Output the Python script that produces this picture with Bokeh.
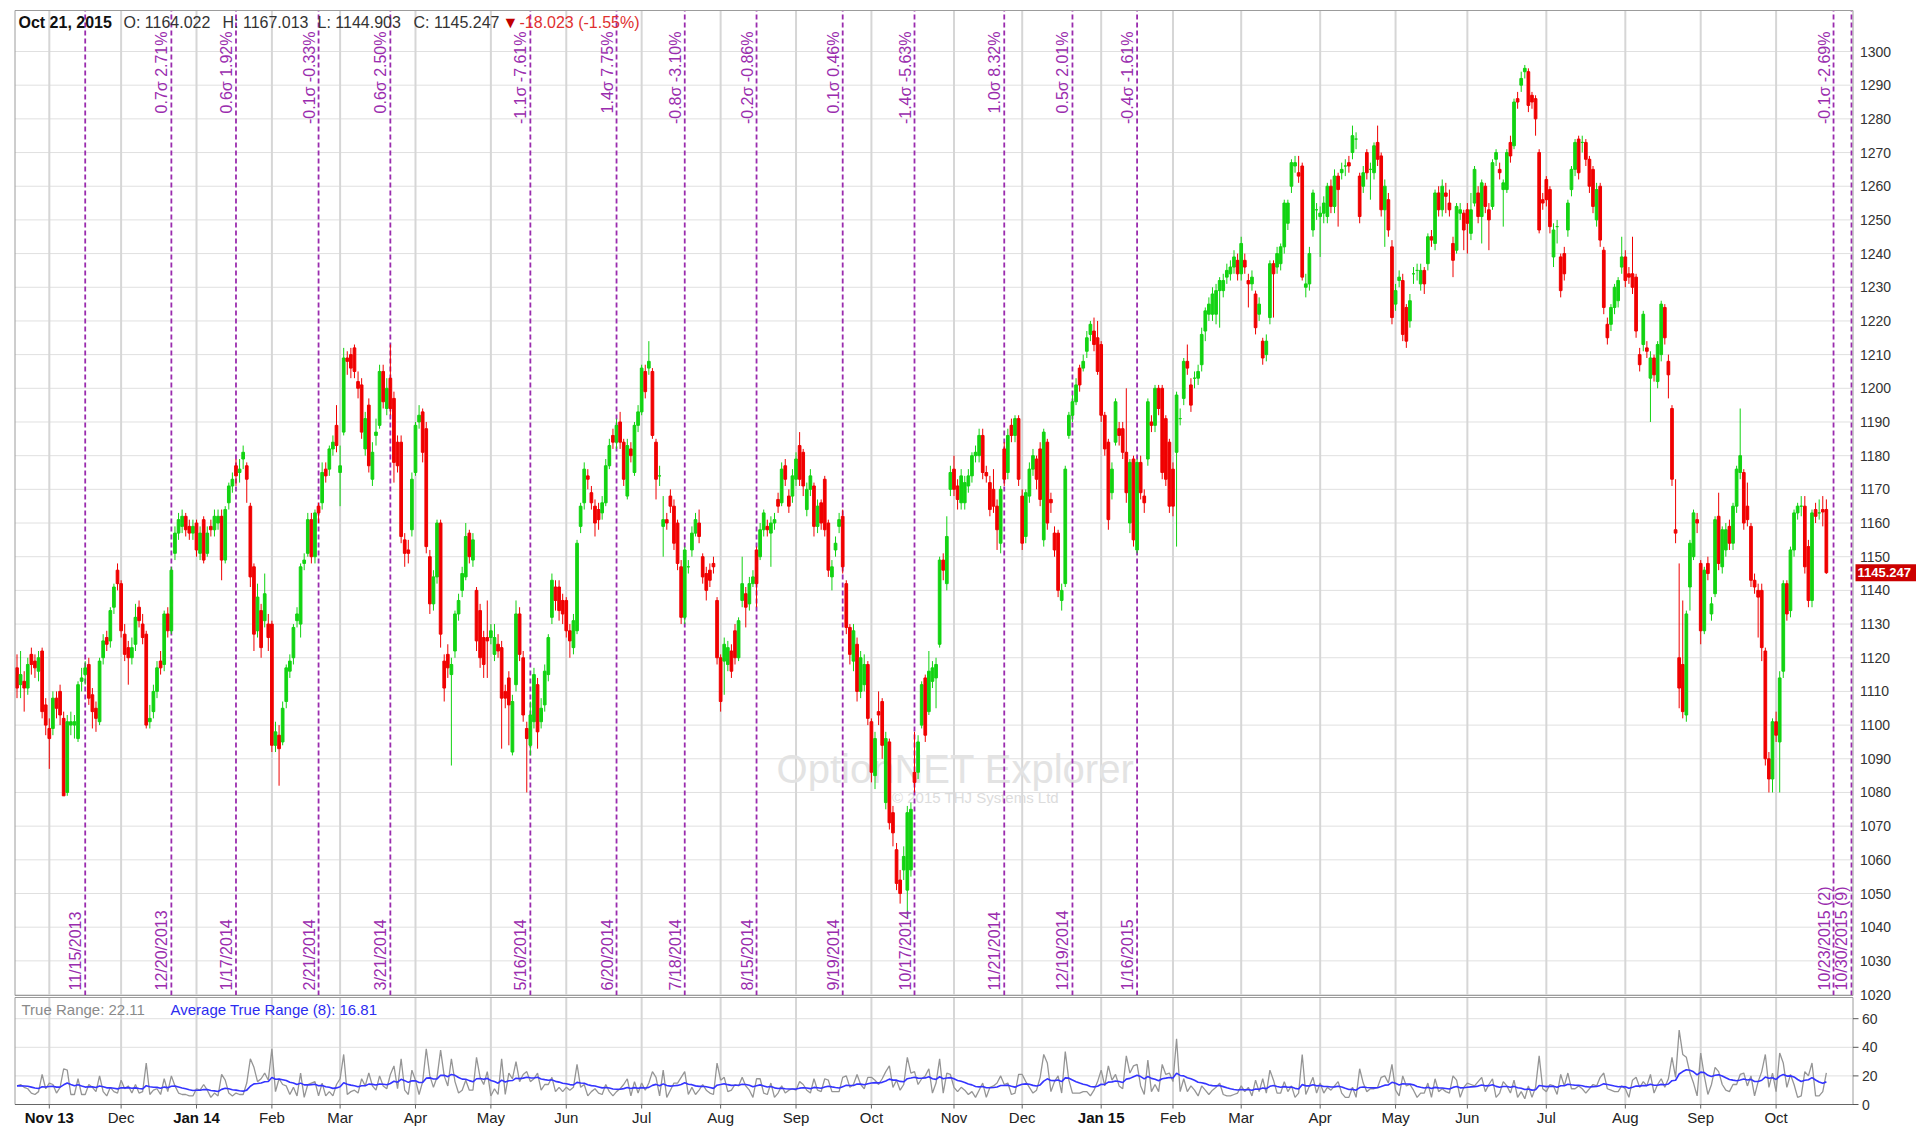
import numpy as np
import pandas as pd
from bokeh.plotting import figure
from bokeh.models import ColumnDataSource, Range1d
from bokeh.core.properties import value
from bokeh.embed import file_html
from bokeh.resources import INLINE

# ---------------- data (daily candles, Oct 21 2013 .. Oct 21 2015) ----------------
opens = [
    1117,1112,1113,1111,1121,1119,1116,1122,1106,1099,
    1099,1108,1110,1102,1080,1100,1100,1096,1113,1115,
    1118,1109,1105,1101,1120,1126,1125,1135,1146,1142,
    1127,1123,1120,1124,1135,1130,1127,1101,1104,1110,
    1119,1118,1133,1128,1151,1157,1159,1162,1159,1157,
    1160,1151,1161,1151,1159,1158,1160,1162,1149,1166,
    1171,1177,1175,1179,1177,1165,1147,1128,1134,1131,
    1130,1130,1094,1097,1095,1107,1116,1120,1131,1130,
    1148,1151,1161,1150,1165,1166,1176,1176,1182,1189,
    1175,1187,1209,1210,1212,1202,1201,1182,1195,1173,
    1186,1189,1205,1194,1203,1197,1184,1184,1155,1152,
    1158,1175,1190,1193,1188,1150,1136,1144,1160,1119,
    1121,1115,1122,1133,1140,1144,1157,1149,1140,1134,
    1126,1126,1126,1121,1124,1123,1110,1114,1092,1112,
    1133,1120,1099,1094,1101,1112,1101,1106,1115,1132,
    1141,1141,1137,1137,1128,1123,1128,1159,1166,1174,
    1169,1165,1164,1163,1166,1177,1186,1184,1190,1184,
    1168,1182,1175,1189,1193,1205,1206,1205,1184,1174,
    1159,1161,1168,1165,1160,1147,1132,1147,1152,1157,
    1160,1150,1145,1146,1148,1137,1120,1119,1118,1122,
    1128,1120,1137,1139,1136,1142,1152,1150,1158,1159,
    1157,1160,1167,1166,1177,1168,1168,1173,1183,1181,
    1164,1170,1171,1159,1166,1173,1160,1144,1152,1159,
    1162,1142,1129,1119,1124,1110,1112,1118,1101,1085,
    1104,1107,1077,1095,1074,1063,1054,1057,1051,1057,
    1086,1086,1100,1114,1104,1113,1114,1124,1149,1142,
    1170,1176,1171,1166,1166,1171,1174,1180,1180,1186,
    1175,1172,1170,1165,1154,1182,1175,1189,1186,1191,
    1168,1156,1168,1176,1179,1182,1155,1184,1167,1157,
    1157,1137,1142,1186,1192,1196,1206,1206,1211,1216,
    1217,1215,1213,1192,1184,1169,1184,1188,1188,1181,
    1160,1179,1152,1178,1168,1179,1190,1189,1200,1200,
    1191,1184,1176,1181,1191,1197,1208,1201,1203,1203,
    1207,1217,1222,1222,1222,1229,1229,1233,1234,1236,
    1238,1234,1238,1232,1231,1228,1222,1214,1210,1221,
    1237,1236,1237,1242,1249,1260,1266,1264,1266,1230,
    1231,1247,1253,1251,1252,1251,1260,1254,1263,1264,
    1266,1267,1270,1274,1263,1260,1270,1265,1264,1273,
    1269,1253,1256,1242,1225,1232,1232,1224,1220,1234,
    1235,1231,1235,1237,1245,1243,1258,1253,1258,1255,
    1243,1241,1252,1252,1253,1246,1255,1258,1251,1260,
    1253,1254,1268,1265,1259,1259,1273,1272,1286,1290,
    1294,1294,1287,1286,1270,1256,1262,1259,1239,1248,
    1239,1240,1247,1259,1265,1274,1273,1273,1268,1265,
    1250,1260,1241,1219,1219,1224,1226,1236,1239,1234,
    1234,1233,1210,1213,1212,1203,1209,1202,1210,1224,
    1208,1194,1158,1120,1118,1103,1141,1150,1161,1148,
    1128,1148,1133,1139,1162,1147,1152,1159,1154,1165,
    1175,1175,1165,1159,1143,1140,1140,1122,1090,1084,
    1101,1095,1116,1142,1134,1152,1163,1165,1165,1153,
    1137,1164,1163,1164,1164.022,
]
highs = [
    1121,1122,1116,1120,1123,1121,1122,1123,1108,1102,
    1110,1110,1112,1104,1103,1104,1103,1113,1117,1119,
    1120,1111,1107,1120,1127,1128,1135,1142,1148,1143,
    1130,1125,1126,1136,1137,1133,1128,1106,1112,1119,
    1122,1134,1135,1147,1159,1163,1164,1163,1161,1161,
    1161,1159,1162,1159,1161,1164,1164,1164,1165,1172,
    1175,1179,1179,1183,1178,1166,1148,1142,1136,1145,
    1133,1131,1101,1100,1107,1118,1121,1130,1135,1148,
    1151,1163,1163,1164,1166,1178,1178,1183,1186,1195,
    1183,1212,1211,1212,1213,1205,1203,1193,1197,1184,
    1191,1207,1207,1203,1213,1199,1186,1186,1157,1155,
    1175,1190,1195,1194,1190,1152,1146,1161,1161,1121,
    1124,1120,1134,1139,1147,1160,1158,1157,1141,1136,
    1128,1137,1130,1130,1127,1125,1112,1116,1109,1137,
    1135,1122,1101,1107,1117,1114,1108,1118,1127,1145,
    1143,1143,1139,1138,1130,1133,1155,1166,1178,1176,
    1171,1167,1166,1168,1179,1185,1188,1191,1193,1185,
    1185,1184,1190,1195,1207,1207,1214,1206,1185,1177,
    1168,1163,1170,1167,1161,1149,1153,1149,1159,1163,
    1164,1151,1147,1148,1150,1138,1121,1126,1125,1124,
    1130,1132,1150,1141,1144,1146,1153,1160,1164,1161,
    1162,1163,1169,1178,1179,1170,1176,1181,1187,1182,
    1172,1176,1172,1167,1167,1174,1161,1149,1156,1163,
    1164,1143,1130,1130,1126,1122,1121,1119,1102,1098,
    1110,1108,1098,1096,1076,1065,1057,1064,1076,1077,
    1098,1097,1113,1115,1122,1119,1120,1150,1151,1162,
    1177,1180,1173,1176,1174,1176,1181,1183,1188,1188,
    1177,1174,1176,1167,1171,1184,1188,1191,1192,1192,
    1170,1170,1178,1182,1180,1184,1188,1185,1169,1159,
    1158,1142,1177,1193,1198,1203,1207,1210,1217,1220,
    1221,1220,1214,1193,1185,1178,1197,1190,1190,1200,
    1179,1180,1179,1180,1170,1197,1192,1201,1201,1201,
    1192,1185,1178,1199,1194,1209,1213,1203,1205,1207,
    1218,1224,1227,1230,1231,1233,1234,1237,1238,1241,
    1240,1245,1240,1234,1235,1229,1227,1215,1216,1238,
    1238,1242,1243,1256,1256,1268,1269,1269,1267,1234,
    1242,1259,1255,1254,1257,1261,1262,1265,1264,1267,
    1268,1269,1278,1276,1264,1266,1271,1267,1273,1278,
    1270,1262,1258,1244,1231,1235,1234,1225,1228,1236,
    1237,1237,1236,1246,1247,1259,1260,1262,1261,1259,
    1245,1255,1255,1253,1255,1258,1266,1260,1262,1261,
    1255,1268,1271,1267,1262,1271,1275,1286,1288,1294,
    1296,1295,1288,1287,1271,1258,1263,1260,1249,1250,
    1240,1242,1256,1266,1274,1275,1275,1274,1269,1266,
    1261,1261,1242,1221,1225,1231,1233,1245,1241,1236,
    1245,1234,1212,1223,1214,1211,1210,1214,1226,1225,
    1210,1195,1173,1148,1137,1134,1155,1164,1163,1149,
    1147,1150,1138,1162,1169,1159,1160,1161,1166,1177,
    1194,1176,1172,1160,1145,1142,1142,1123,1092,1102,
    1104,1116,1143,1143,1153,1164,1166,1168,1168,1155,
    1164,1166,1167,1168,1167.013,
]
lows = [
    1108,1108,1104,1109,1115,1114,1113,1102,1097,1087,
    1097,1102,1100,1079,1079,1097,1096,1095,1110,1112,
    1106,1099,1098,1100,1118,1122,1123,1133,1140,1126,
    1119,1112,1118,1122,1129,1124,1099,1099,1102,1108,
    1115,1116,1126,1127,1149,1155,1157,1156,1155,1155,
    1150,1149,1148,1150,1156,1156,1158,1143,1148,1164,
    1169,1171,1172,1176,1166,1141,1122,1126,1120,1129,
    1122,1092,1092,1082,1094,1105,1114,1118,1129,1126,
    1146,1150,1148,1148,1160,1164,1172,1174,1180,1181,
    1165,1186,1204,1203,1203,1197,1185,1180,1175,1171,
    1183,1188,1194,1192,1192,1172,1175,1154,1147,1148,
    1156,1174,1188,1178,1151,1133,1134,1142,1123,1107,
    1114,1088,1120,1131,1138,1143,1148,1147,1122,1117,
    1114,1114,1124,1119,1120,1093,1105,1094,1091,1110,
    1119,1101,1080,1091,1099,1093,1099,1104,1113,1130,
    1134,1131,1130,1126,1120,1121,1127,1157,1164,1170,
    1164,1156,1158,1161,1165,1176,1182,1182,1182,1171,
    1167,1178,1174,1187,1192,1197,1204,1185,1167,1171,
    1150,1158,1163,1152,1146,1130,1130,1145,1150,1156,
    1154,1142,1137,1141,1145,1118,1104,1109,1116,1114,
    1118,1119,1135,1129,1134,1141,1135,1149,1156,1156,
    1147,1158,1163,1165,1171,1163,1166,1171,1171,1168,
    1162,1168,1156,1157,1158,1156,1144,1140,1150,1157,
    1145,1127,1118,1116,1107,1108,1110,1100,1083,1081,
    1100,1090,1075,1069,1064,1051,1047,1054,1043,1055,
    1080,1084,1099,1095,1103,1111,1105,1123,1143,1140,
    1168,1168,1164,1164,1164,1169,1172,1178,1178,1173,
    1172,1162,1163,1152,1151,1171,1173,1184,1184,1171,
    1152,1154,1166,1174,1170,1165,1153,1158,1163,1150,
    1138,1134,1141,1185,1190,1195,1199,1205,1209,1214,
    1211,1204,1190,1180,1158,1167,1183,1183,1179,1166,
    1157,1153,1151,1167,1163,1177,1187,1187,1192,1173,
    1171,1163,1162,1153,1189,1195,1204,1193,1200,1201,
    1205,1214,1220,1220,1219,1218,1227,1231,1232,1234,
    1232,1232,1234,1224,1229,1216,1220,1207,1208,1219,
    1221,1234,1235,1240,1247,1258,1264,1261,1232,1227,
    1229,1245,1250,1239,1249,1249,1252,1252,1248,1262,
    1263,1264,1268,1271,1249,1258,1262,1256,1262,1266,
    1251,1242,1245,1219,1223,1230,1214,1212,1218,1231,
    1232,1229,1228,1235,1242,1241,1251,1251,1252,1251,
    1233,1240,1250,1241,1240,1244,1254,1249,1243,1252,
    1241,1253,1266,1262,1248,1258,1267,1271,1283,1288,
    1292,1282,1283,1275,1246,1253,1254,1246,1236,1243,
    1227,1232,1245,1257,1263,1262,1270,1266,1258,1252,
    1248,1242,1222,1213,1217,1222,1224,1234,1230,1231,
    1228,1215,1205,1211,1209,1190,1202,1200,1208,1213,
    1197,1171,1154,1105,1102,1101,1134,1149,1157,1124,
    1127,1143,1131,1138,1146,1145,1150,1152,1152,1163,
    1173,1158,1159,1141,1139,1126,1119,1088,1080,1080,
    1095,1080,1114,1131,1132,1150,1161,1162,1145,1135,
    1135,1160,1161,1159,1144.903,
]
closes = [
    1111,1115,1111,1118,1118,1117,1120,1104,1100,1096,
    1108,1105,1103,1079,1101,1101,1101,1112,1114,1117,
    1108,1104,1102,1119,1125,1124,1134,1141,1142,1128,
    1121,1120,1123,1132,1131,1126,1100,1102,1110,1117,
    1117,1133,1128,1146,1157,1161,1162,1158,1157,1159,
    1152,1157,1149,1157,1158,1162,1162,1149,1164,1171,
    1173,1174,1176,1181,1173,1144,1127,1138,1123,1139,
    1126,1094,1098,1093,1105,1117,1119,1129,1133,1147,
    1149,1161,1150,1163,1163,1175,1174,1182,1184,1183,
    1177,1209,1208,1206,1205,1200,1187,1191,1177,1181,
    1187,1205,1196,1200,1194,1178,1177,1156,1151,1151,
    1173,1189,1192,1181,1153,1136,1144,1160,1127,1111,
    1117,1118,1133,1137,1145,1156,1150,1155,1125,1120,
    1118,1125,1128,1126,1122,1108,1108,1106,1107,1133,
    1121,1103,1096,1103,1115,1098,1105,1116,1126,1143,
    1137,1134,1133,1128,1125,1131,1154,1165,1176,1173,
    1166,1160,1161,1166,1177,1183,1184,1189,1184,1173,
    1183,1180,1189,1193,1206,1199,1208,1186,1173,1174,
    1161,1160,1165,1154,1148,1132,1152,1147,1157,1161,
    1156,1144,1140,1143,1147,1120,1107,1124,1123,1116,
    1120,1131,1142,1135,1142,1144,1142,1158,1163,1158,
    1160,1161,1165,1176,1173,1165,1174,1179,1173,1171,
    1170,1174,1159,1165,1160,1158,1146,1147,1154,1161,
    1147,1129,1121,1128,1110,1120,1118,1102,1086,1096,
    1103,1094,1096,1071,1068,1053,1050,1061,1074,1075,
    1083,1095,1112,1097,1116,1117,1118,1149,1146,1156,
    1175,1170,1167,1174,1172,1174,1180,1181,1186,1175,
    1174,1164,1165,1158,1170,1173,1186,1186,1191,1173,
    1154,1169,1176,1180,1173,1167,1187,1160,1166,1152,
    1140,1140,1176,1192,1196,1201,1201,1208,1215,1219,
    1213,1205,1192,1182,1161,1176,1196,1186,1181,1169,
    1178,1155,1178,1169,1166,1196,1189,1200,1194,1175,
    1173,1165,1165,1198,1191,1208,1206,1195,1203,1205,
    1216,1223,1225,1228,1229,1232,1232,1235,1236,1239,
    1234,1243,1236,1231,1233,1218,1225,1209,1214,1237,
    1234,1240,1242,1255,1255,1267,1267,1263,1233,1231,
    1240,1258,1253,1252,1255,1260,1254,1263,1259,1265,
    1266,1266,1275,1274,1251,1264,1264,1265,1272,1268,
    1253,1260,1247,1221,1229,1233,1216,1214,1226,1234,
    1235,1235,1231,1245,1244,1258,1253,1260,1257,1253,
    1238,1254,1253,1247,1249,1253,1265,1251,1261,1254,
    1250,1267,1270,1264,1261,1270,1269,1285,1285,1292,
    1295,1284,1285,1280,1247,1255,1256,1248,1247,1248,
    1229,1234,1255,1265,1273,1264,1273,1268,1260,1254,
    1259,1244,1224,1215,1224,1230,1232,1239,1232,1233,
    1230,1217,1207,1222,1211,1209,1204,1213,1225,1215,
    1204,1173,1157,1111,1104,1133,1154,1163,1160,1128,
    1146,1145,1136,1161,1148,1158,1158,1154,1165,1176,
    1180,1160,1161,1143,1141,1138,1123,1090,1084,1101,
    1097,1114,1142,1133,1152,1163,1165,1165,1147,1137,
    1163,1162,1163,1163.27,1145.247,
]

# NYSE holidays in the span (calendar for the x axis)
holidays = ["2013-11-28", "2013-12-25", "2014-01-01", "2014-01-20", "2014-02-17",
            "2014-04-18", "2014-05-26", "2014-07-04", "2014-09-01", "2014-11-27",
            "2014-12-25", "2015-01-01", "2015-01-19", "2015-02-16", "2015-04-03",
            "2015-05-25", "2015-07-03", "2015-09-07"]

expiry_dates = ["2013-11-15", "2013-12-20", "2014-01-17", "2014-02-21", "2014-03-21",
                "2014-05-16", "2014-06-20", "2014-07-18", "2014-08-15", "2014-09-19",
                "2014-10-17", "2014-11-21", "2014-12-19", "2015-01-16", "2015-10-23",
                "2015-10-30"]
expiry_labels = ["11/15/2013", "12/20/2013", "1/17/2014", "2/21/2014", "3/21/2014",
                 "5/16/2014", "6/20/2014", "7/18/2014", "8/15/2014", "9/19/2014",
                 "10/17/2014", "11/21/2014", "12/19/2014", "1/16/2015", "10/23/2015 (2)",
                 "10/30/2015 (9)"]
move_dates = ["2013-12-20", "2014-01-17", "2014-02-21", "2014-03-21", "2014-05-16",
              "2014-06-20", "2014-07-18", "2014-08-15", "2014-09-19", "2014-10-17",
              "2014-11-21", "2014-12-19", "2015-01-16", "2015-10-23"]
move_labels = ["0.7σ 2.71%", "0.6σ 1.92%", "-0.1σ -0.33%", "0.6σ 2.50%", "-1.1σ -7.61%",
               "1.4σ 7.75%", "-0.8σ -3.10%", "-0.2σ -0.86%", "0.1σ 0.46%", "-1.4σ -5.63%",
               "1.0σ 8.32%", "0.5σ 2.01%", "-0.4σ -1.61%", "-0.1σ -2.69%"]

header_texts = ["Oct 21, 2015", "O: 1164.022", "H: 1167.013", "L: 1144.903", "C: 1145.247",
                "▼", "-18.023 (-1.55%)"]
tr_text = "True Range: 22.11"
atr_text = "Average True Range (8): 16.81"
price_ticks = list(range(1020, 1301, 10))
tr_ticks = [0, 20, 40, 60]

# ---------------- styles / layout ----------------
GREEN = "#12d312"
RED = "#f00000"
PURPLE = "#9a2cae"
GRID = "#e0e0e0"
VGRID = "#d6d6d6"
BORDER = "#9c9c9c"
FONT = value("Liberation Sans")
W, H = 1916, 1130

# pixel <-> data mapping of the reference layout
X0, DX = 16.5, 3.59            # x pixel of first candle, pixels per trading day
Y1300, PY10 = 51.0, 3.368      # y pixel of 1300, pixels per price point
Y0TR, PYTR = 1104.0, 1.43      # y pixel of true-range 0, pixels per unit


def px_x(px):
    return (px - X0) / DX


def px_price(py):
    return 1300 - (py - Y1300) / PY10


def px_tr(py):
    return (Y0TR - py) / PYTR


L, R = px_x(14.5), px_x(1852.5)
TOP, BOT = px_price(10), px_price(995)
TOP2 = px_tr(997)

cal = pd.bdate_range("2013-10-21", "2015-10-30", freq="C", holidays=holidays)
idx_of = {d.strftime("%Y-%m-%d"): i for i, d in enumerate(cal)}
N = len(closes)
xs = np.arange(N)
o = np.array(opens, float); h = np.array(highs, float)
l = np.array(lows, float); c = np.array(closes, float)
cols = np.where(c >= o, GREEN, RED)
src = ColumnDataSource(dict(x=xs, h=h, l=l, top=np.maximum(o, c), bot=np.minimum(o, c), col=cols))

prev = np.concatenate([[c[0]], c[:-1]])
tr = np.maximum(h, prev) - np.minimum(l, prev)
tr[0] = h[0] - l[0]
atr = pd.Series(tr).ewm(alpha=1 / 8, adjust=False).mean().values

month_ticks = [i for i in range(1, N) if cal[i].month != cal[i - 1].month]
bold_ticks = [month_ticks[0]] + [i for i in month_ticks if cal[i].month == 1]
reg_ticks = [i for i in month_ticks if i not in bold_ticks]

p = figure(width=W, height=H, x_range=Range1d(px_x(0), px_x(W)),
           y_range=Range1d(px_price(H), px_price(0)),
           x_axis_location=None, y_axis_location=None, toolbar_location=None,
           output_backend="svg", min_border=0, outline_line_color=None,
           background_fill_color="white", border_fill_color="white")
p.extra_y_ranges = {"tr": Range1d(px_tr(H), px_tr(0))}
p.grid.visible = False

# grid lines
p.segment(x0=[L] * len(price_ticks), y0=price_ticks, x1=[R] * len(price_ticks), y1=price_ticks,
          line_color=GRID, line_width=1)
p.segment(x0=month_ticks, y0=[BOT] * len(month_ticks), x1=month_ticks, y1=[TOP] * len(month_ticks),
          line_color=VGRID, line_width=2)
p.segment(x0=[L] * 3, y0=tr_ticks[1:], x1=[R] * 3, y1=tr_ticks[1:], line_color=GRID,
          line_width=1, y_range_name="tr")
p.segment(x0=month_ticks, y0=[0] * len(month_ticks), x1=month_ticks, y1=[TOP2] * len(month_ticks),
          line_color=VGRID, line_width=2, y_range_name="tr")

# watermark
p.text(x=[px_x(955)], y=[px_price(768)], text=["OptionNET Explorer"], text_align="center",
       text_baseline="middle", text_font=FONT, text_font_size="40px", text_color="#e3e3e3")
p.text(x=[px_x(975)], y=[px_price(797)], text=["© 2015 THJ Systems Ltd"], text_align="center",
       text_baseline="middle", text_font=FONT, text_font_size="15px", text_color="#dcdcdc")

# expiration lines
exp_pos = [idx_of[d] for d in expiry_dates]
p.segment(x0=exp_pos, y0=[BOT] * len(exp_pos), x1=exp_pos, y1=[TOP] * len(exp_pos),
          line_color=PURPLE, line_dash="5 3", line_width=1.8)

# candles
p.segment(x0="x", y0="h", x1="x", y1="l", color="col", line_width=1, source=src)
p.vbar(x="x", width=0.75, top="top", bottom="bot", fill_color="col", line_color="col",
       line_width=1, source=src)

# expiration labels
p.text(x=exp_pos, y=[BOT] * len(exp_pos), text=expiry_labels, angle=np.pi / 2,
       text_align="left", text_baseline="bottom", x_offset=-1, y_offset=-5,
       text_font=FONT, text_font_size="16px", text_color=PURPLE)
mv_pos = [idx_of[d] for d in move_dates]
p.text(x=mv_pos, y=[TOP] * len(mv_pos), text=move_labels, angle=np.pi / 2,
       text_align="right", text_baseline="bottom", x_offset=-1, y_offset=21,
       text_font=FONT, text_font_size="16px", text_color=PURPLE)

# true range panel
p.line(xs, tr, line_color="#959595", line_width=1.3, y_range_name="tr")
p.line(xs, atr, line_color="#3434ff", line_width=1.6, y_range_name="tr")

# panel borders
p.quad(left=[L], right=[R], top=[TOP], bottom=[BOT], fill_color=None, line_color=BORDER,
       line_width=1)
p.quad(left=[L], right=[R], top=[TOP2], bottom=[0], fill_color=None, line_color=BORDER,
       line_width=1, y_range_name="tr")
p.segment(x0=[L], y0=[0], x1=[R], y1=[0], line_color="#666666", line_width=1, y_range_name="tr")

# header
hdr_x = [18, 123, 222, 317, 413, 502, 519]
hdr_col = ["#111111", "#333333", "#333333", "#333333", "#333333", "#c00000", "#e03030"]
p.text(x=[px_x(hdr_x[0])], y=[px_price(22)], text=header_texts[:1], text_baseline="middle",
       text_font=FONT, text_font_size="16px", text_font_style="bold", text_color=hdr_col[0])
p.text(x=[px_x(v) for v in hdr_x[1:]], y=[px_price(22)] * 6, text=header_texts[1:],
       text_baseline="middle", text_font=FONT, text_font_size="16px", text_color=hdr_col[1:])

# right-hand price scale
p.text(x=[R] * len(price_ticks), y=price_ticks, text=[str(v) for v in price_ticks],
       x_offset=7, text_baseline="middle", text_font=FONT, text_font_size="14px",
       text_color="#333333")
# last price tag
p.quad(left=[px_x(1855)], right=[px_x(W)], top=[c[-1] + 8.5 / PY10], bottom=[c[-1] - 8.5 / PY10],
       fill_color="#cc0000", line_color=None)
p.text(x=[px_x(1857)], y=[c[-1]], text=[f"{c[-1]:.3f}"], text_baseline="middle",
       text_font=FONT, text_font_size="13px", text_font_style="bold", text_color="white")

# right-hand true range scale
p.segment(x0=[R] * 4, y0=tr_ticks, x1=[px_x(1858)] * 4, y1=tr_ticks, line_color="#555555",
          line_width=1, y_range_name="tr")
p.text(x=[R] * 4, y=tr_ticks, text=[str(v) for v in tr_ticks], x_offset=9,
       text_baseline="middle", text_font=FONT, text_font_size="14px", text_color="#333333",
       y_range_name="tr")

# legend of the lower panel
p.text(x=[px_x(21)], y=[px_tr(1009)], text=[tr_text], text_baseline="middle", text_font=FONT,
       text_font_size="15px", text_color="#8a8a8a", y_range_name="tr")
p.text(x=[px_x(170)], y=[px_tr(1009)], text=[atr_text], text_baseline="middle", text_font=FONT,
       text_font_size="15px", text_color="#2c2cf0", y_range_name="tr")

# month axis
p.segment(x0=month_ticks, y0=[0] * len(month_ticks), x1=month_ticks,
          y1=[px_tr(1108)] * len(month_ticks), line_color="#666666", line_width=1,
          y_range_name="tr")
p.text(x=reg_ticks, y=[px_tr(1117)] * len(reg_ticks), text=[cal[i].strftime("%b") for i in reg_ticks],
       text_align="center", text_baseline="middle", text_font=FONT, text_font_size="15px",
       text_color="#222222", y_range_name="tr")
p.text(x=bold_ticks, y=[px_tr(1117)] * len(bold_ticks),
       text=[cal[i].strftime("%b %y") for i in bold_ticks], text_align="center",
       text_baseline="middle", text_font=FONT, text_font_size="15px", text_font_style="bold",
       text_color="#111111", y_range_name="tr")

open("out.html", "w").write(file_html(p, INLINE))
